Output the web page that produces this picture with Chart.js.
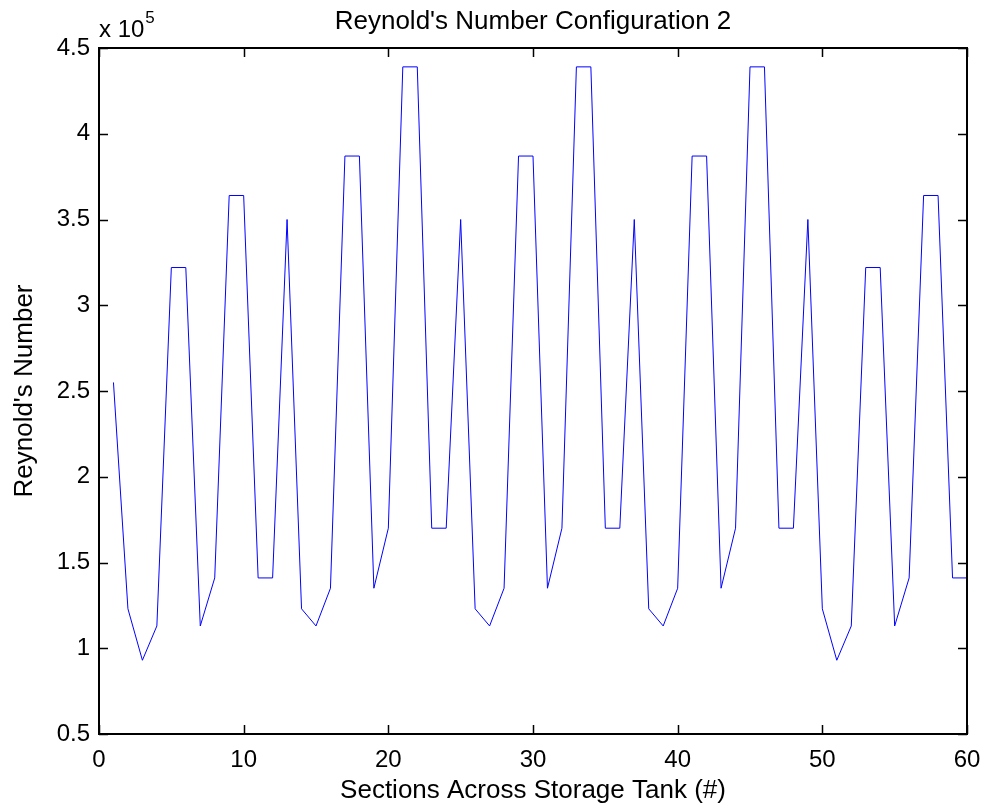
<!DOCTYPE html>
<html>
<head>
<meta charset="utf-8">
<script src="https://cdn.jsdelivr.net/npm/chart.js@4.4.1/dist/chart.umd.min.js"></script>
<style>
  body { margin: 0; background: #fff; }
  #wrap { width: 981px; height: 808px; }
</style>
</head>
<body>
<div id="wrap"><canvas id="chart" width="981" height="808"></canvas></div>
<script>
// Section index across the tank (1..60)
const sections = [
  1, 2, 3, 4, 5, 6, 7, 8, 9, 10,
  11, 12, 13, 14, 15, 16, 17, 18, 19, 20,
  21, 22, 23, 24, 25, 26, 27, 28, 29, 30,
  31, 32, 33, 34, 35, 36, 37, 38, 39, 40,
  41, 42, 43, 44, 45, 46, 47, 48, 49, 50,
  51, 52, 53, 54, 55, 56, 57, 58, 59, 60
];

// Reynold's number per section
const reynolds = [
  255000, 123000, 93000, 113000, 322000, 322000, 113000, 141000, 364000, 364000,
  141000, 141000, 350000, 123000, 113000, 135000, 387000, 387000, 135000, 170000,
  439000, 439000, 170000, 170000, 350000, 123000, 113000, 135000, 387000, 387000,
  135000, 170000, 439000, 439000, 170000, 170000, 350000, 123000, 113000, 135000,
  387000, 387000, 135000, 170000, 439000, 439000, 170000, 170000, 350000, 123000,
  93000, 113000, 322000, 322000, 113000, 141000, 364000, 364000, 141000, 141000
];

const titleText = "Reynold's Number Configuration 2";
const xLabel = 'Sections Across Storage Tank (#)';
const yLabel = "Reynold's Number";
const yExponent = 5; // axis multiplier shown as x 10^5

const FONT = '"Liberation Sans", Arial, sans-serif';

// draws the matlab style box, inward ticks, title and exponent
const matlabFrame = {
  id: 'matlabFrame',
  afterDraw(chart) {
    const { ctx, chartArea: a, scales: { x, y } } = chart;
    const tick = 9;
    ctx.save();
    ctx.strokeStyle = '#000';
    ctx.lineWidth = 1.5;
    ctx.beginPath();
    x.ticks.forEach(t => {
      const px = Math.round(x.getPixelForValue(t.value)) + 0.5;
      ctx.moveTo(px, a.bottom); ctx.lineTo(px, a.bottom - tick);
      ctx.moveTo(px, a.top); ctx.lineTo(px, a.top + tick);
    });
    y.ticks.forEach(t => {
      const py = Math.round(y.getPixelForValue(t.value)) + 0.5;
      ctx.moveTo(a.left, py); ctx.lineTo(a.left + tick, py);
      ctx.moveTo(a.right, py); ctx.lineTo(a.right - tick, py);
    });
    ctx.stroke();

    ctx.lineWidth = 2;
    ctx.strokeRect(a.left, a.top, a.right - a.left, a.bottom - a.top);

    ctx.fillStyle = '#000';
    ctx.textBaseline = 'alphabetic';
    ctx.textAlign = 'center';
    ctx.font = '26px ' + FONT;
    ctx.fillText(titleText, (a.left + a.right) / 2, 29);

    ctx.textAlign = 'left';
    ctx.font = '24px ' + FONT;
    ctx.fillText('x 10', a.left, 37);
    const w = ctx.measureText('x 10').width;
    ctx.font = '17px ' + FONT;
    ctx.fillText(String(yExponent), a.left + w + 1, 23);
    ctx.restore();
  }
};

const ctx = document.getElementById('chart').getContext('2d');
new Chart(ctx, {
  type: 'line',
  data: {
    datasets: [{
      data: sections.map((s, i) => ({ x: s, y: reynolds[i] })),
      borderColor: '#0000ff',
      borderWidth: 1,
      pointRadius: 0,
      tension: 0,
      fill: false
    }]
  },
  options: {
    responsive: false,
    animation: false,
    layout: { padding: { top: 48, right: 14, left: 0, bottom: 0 } },
    plugins: {
      legend: { display: false },
      tooltip: { enabled: false }
    },
    scales: {
      x: {
        type: 'linear',
        min: 0,
        max: 60,
        grid: { display: false, drawTicks: false },
        border: { display: false },
        ticks: {
          stepSize: 10,
          padding: 12,
          color: '#000',
          font: { family: FONT, size: 24 },
          maxRotation: 0
        },
        title: {
          display: true,
          text: xLabel,
          color: '#000',
          font: { family: FONT, size: 26 },
          padding: { top: 0, bottom: 2 }
        },
        afterFit: scale => {
          scale.height = 74;
          scale.paddingLeft = 0;
          scale.paddingRight = 0;
        }
      },
      y: {
        min: 50000,
        max: 450000,
        grid: { display: false, drawTicks: false },
        border: { display: false },
        ticks: {
          stepSize: 50000,
          padding: 9,
          color: '#000',
          font: { family: FONT, size: 24 },
          callback: v => String(v / Math.pow(10, yExponent))
        },
        title: {
          display: true,
          text: yLabel,
          color: '#000',
          font: { family: FONT, size: 26 },
          padding: { top: 9, bottom: 0 }
        },
        afterFit: scale => {
          scale.width = 99;
          scale.paddingTop = 0;
          scale.paddingBottom = 0;
        }
      }
    }
  },
  plugins: [matlabFrame]
});
</script>
</body>
</html>
